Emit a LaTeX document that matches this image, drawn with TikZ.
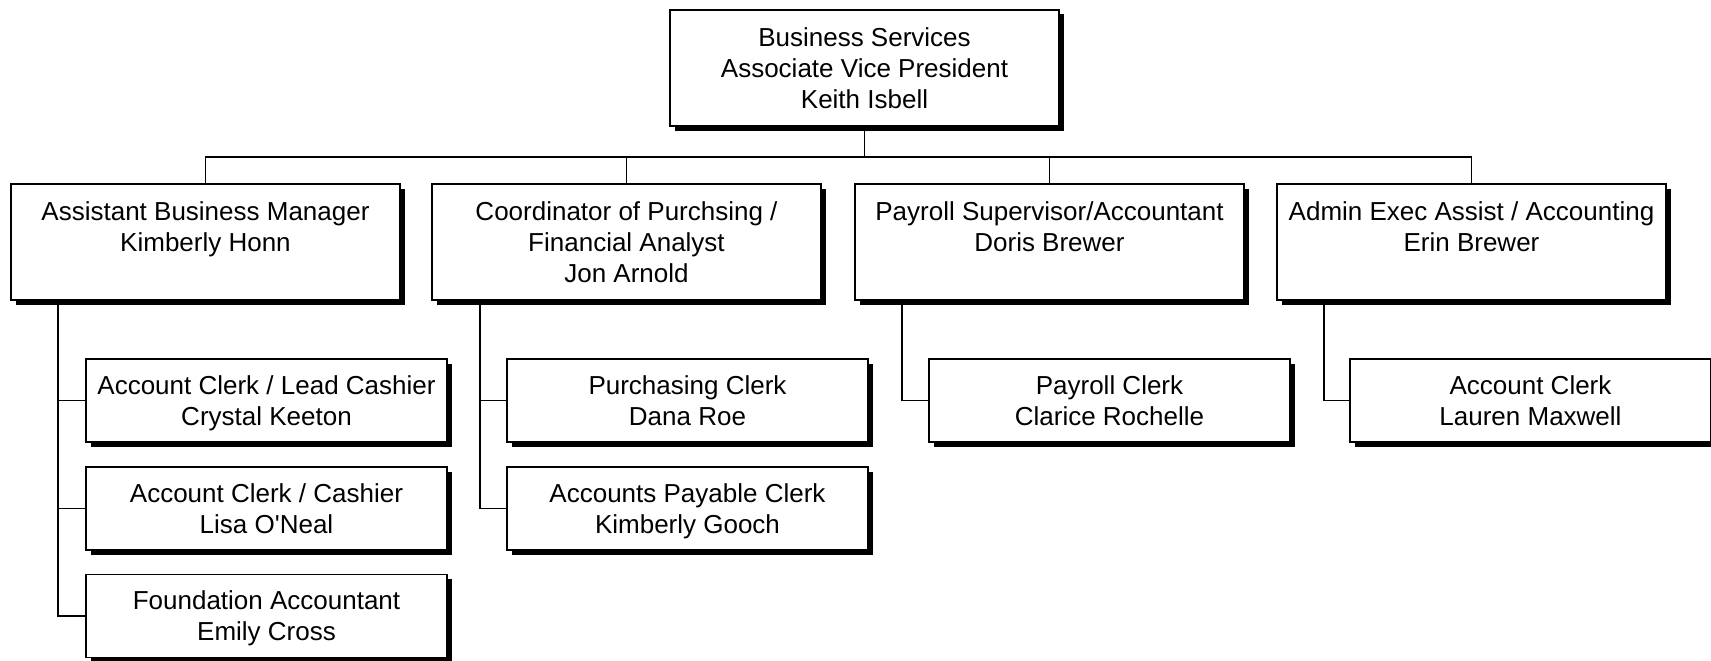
\documentclass[tikz,border=0pt]{standalone}
\usepackage{fontspec}
\setmainfont{Liberation Sans}
\usetikzlibrary{shadows}
\newcommand{\ls}{\rule[-6.3pt]{0pt}{31pt}}
\tikzset{
  x=1pt, y=-1pt,
  boxbase/.style={draw=black, fill=white, line width=1.9pt, rectangle, inner sep=0pt,
    align=center, font=\fontsize{26}{31}\selectfont,
    drop shadow={shadow xshift=4.5pt, shadow yshift=-4.5pt, fill=black, opacity=1}},
  bigbox/.style={boxbase, minimum width=389pt, minimum height=116pt},
  smallbox/.style={boxbase, minimum width=361pt, minimum height=83pt},
  conn/.style={line width=1.9pt, line cap=rect}
}
\begin{document}
\begin{tikzpicture}
\useasboundingbox (0,0) rectangle (1711,661);
% top
\node[bigbox] (top) at (864.5,68) {\ls Business Services\\\ls Associate Vice President\\\ls Keith Isbell};
% level 2
\node[bigbox] (b1) at (205.5,242) {\ls Assistant Business Manager\\\ls Kimberly Honn\\\ls~};
\node[bigbox] (b2) at (626.5,242) {\ls Coordinator of Purchsing /\\\ls Financial Analyst\\\ls Jon Arnold};
\node[bigbox] (b3) at (1049.5,242) {\ls Payroll Supervisor/Accountant\\\ls Doris Brewer\\\ls~};
\node[bigbox] (b4) at (1471.5,242) {\ls Admin Exec Assist / Accounting\\\ls Erin Brewer\\\ls~};
% children
\node[smallbox] (c1a) at (266.5,400.5) {\ls Account Clerk / Lead Cashier\\\ls Crystal Keeton};
\node[smallbox] (c1b) at (266.5,508.5) {\ls Account Clerk / Cashier\\\ls Lisa O\textquotesingle Neal};
\node[smallbox] (c1c) at (266.5,616) {\ls Foundation Accountant\\\ls Emily Cross};
\node[smallbox] (c2a) at (687.5,400.5) {\ls Purchasing Clerk\\\ls Dana Roe};
\node[smallbox] (c2b) at (687.5,508.5) {\ls Accounts Payable Clerk\\\ls Kimberly Gooch};
\node[smallbox] (c3a) at (1109.5,400.5) {\ls Payroll Clerk\\\ls Clarice Rochelle};
\node[smallbox] (c4a) at (1530.5,400.5) {\ls Account Clerk\\\ls Lauren Maxwell};
% bus coordinate
\coordinate (bus) at (864.5,157);
% connectors
\draw[conn] (top.south) -- (bus);
\draw[conn] (b1.north) |- (bus);
\draw[conn] (b2.north) |- (bus);
\draw[conn] (b3.north) |- (bus);
\draw[conn] (b4.north) |- (bus);
\draw[conn] ([xshift=-147.5pt]b1.south) |- (c1c.west);
\draw[conn] ([xshift=-147.5pt]b1.south) |- (c1a.west);
\draw[conn] ([xshift=-147.5pt]b1.south) |- (c1b.west);
\draw[conn] ([xshift=-146.5pt]b2.south) |- (c2b.west);
\draw[conn] ([xshift=-146.5pt]b2.south) |- (c2a.west);
\draw[conn] ([xshift=-147.5pt]b3.south) |- (c3a.west);
\draw[conn] ([xshift=-147.5pt]b4.south) |- (c4a.west);
\end{tikzpicture}
\end{document}
